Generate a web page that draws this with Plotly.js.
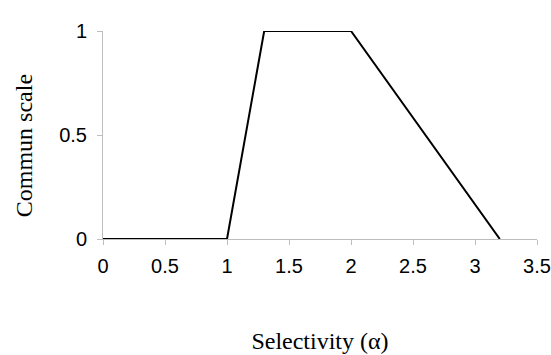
<!DOCTYPE html>
<html>
<head>
<meta charset="utf-8">
<script src="https://cdn.plot.ly/plotly-3.0.1.min.js"></script>
<style>html,body{margin:0;padding:0;background:#fff;}#chart{width:551px;height:355px;}</style>
</head>
<body>
<div id="chart"></div>
<script>
const selectivity = [0, 1, 1.3, 2, 3.2];
const communScale = [0, 0, 1, 1, 0];
const xTicks = [0, 0.5, 1, 1.5, 2, 2.5, 3, 3.5];
const xTickLabels = ["0", "0.5", "1", "1.5", "2", "2.5", "3", "3.5"];
const yTicks = [0, 0.5, 1];
const yTickLabels = ["0", "0.5", "1"];
const xTitle = 'Selectivity (α)';
const yTitle = 'Commun scale';

const trace = {
  x: selectivity,
  y: communScale,
  type: 'scatter',
  mode: 'lines',
  line: {color: '#000', width: 2},
  hoverinfo: 'skip',
  cliponaxis: false
};

const titleFont = {family: 'Liberation Serif, Times New Roman, serif', size: 24, color: '#000'};

const layout = {
  width: 551,
  height: 355,
  margin: {l: 103, r: 14, t: 31, b: 116},
  paper_bgcolor: '#fff',
  plot_bgcolor: '#fff',
  showlegend: false,
  xaxis: {
    range: [0, 3.5],
    tickvals: xTicks,
    ticktext: xTickLabels,
    showgrid: false,
    zeroline: false,
    showline: true,
    linecolor: '#bdbdbd',
    linewidth: 1,
    ticks: 'outside',
    ticklen: 5,
    tickcolor: '#bdbdbd',
    tickfont: {family: 'Liberation Sans, Arial, sans-serif', size: 20, color: '#000'},
    ticklabelstandoff: 4,
    title: {text: xTitle, font: titleFont, standoff: 56},
    fixedrange: true
  },
  yaxis: {
    range: [0, 1],
    tickvals: yTicks,
    ticktext: yTickLabels,
    showgrid: false,
    zeroline: false,
    showline: true,
    linecolor: '#bdbdbd',
    linewidth: 1,
    ticks: 'outside',
    ticklen: 5,
    tickcolor: '#bdbdbd',
    tickfont: {family: 'Liberation Sans, Arial, sans-serif', size: 20, color: '#000'},
    ticklabelstandoff: 6,
    fixedrange: true
  },
  annotations: [{
    text: yTitle,
    xref: 'paper', yref: 'paper',
    x: -0.18, y: 0.45,
    xanchor: 'center', yanchor: 'middle',
    textangle: -90,
    showarrow: false,
    font: titleFont
  }]
};

Plotly.newPlot('chart', [trace], layout, {displayModeBar: false, staticPlot: true});
</script>
</body>
</html>
